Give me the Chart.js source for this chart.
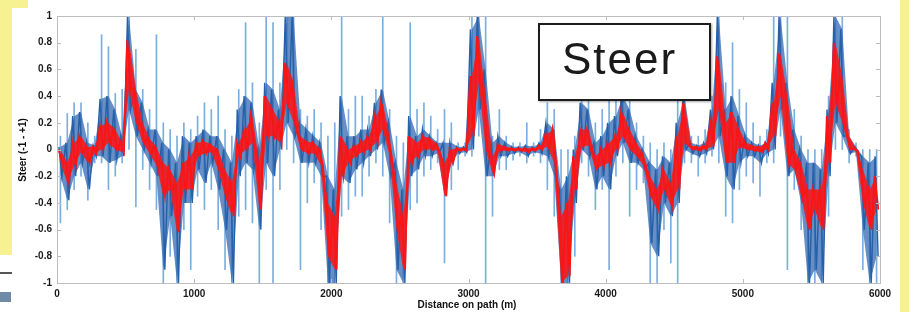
<!DOCTYPE html>
<html>
<head>
<meta charset="utf-8">
<script src="https://cdn.jsdelivr.net/npm/chart.js@4"></script>
<style>
  html, body { margin: 0; padding: 0; background: #fff; }
  #wrap { position: relative; width: 909px; height: 312px; overflow: hidden; font-family: "Liberation Sans", Arial, sans-serif; }
  #wrap canvas { position: absolute; left: 0; top: 0; }
  .edge { position: absolute; background: #f6f292; }
  #yTitle { position: absolute; left: 22px; top: 150px; transform: translate(-50%, -50%) rotate(-90deg); font-size: 10px; font-weight: bold; white-space: nowrap; color: #111; }
  #xTitle { position: absolute; left: 467px; top: 304px; transform: translate(-50%, -50%); font-size: 10px; font-weight: bold; white-space: nowrap; color: #111; }
  #label { position: absolute; left: 538px; top: 23px; width: 147px; height: 62px; padding: 12px 0 0 22px; border: 2.5px solid #1c1c1c; background: #fff;
           box-shadow: 1px 1px 2px rgba(0,0,0,0.35); font-size: 44px; letter-spacing: 2px; line-height: 44px; color: #1a1a1a; }
</style>
</head>
<body>
<div id="wrap">
  <canvas id="steerChart" width="909" height="312"></canvas>
  <div class="edge" style="left:0;top:0;width:12px;height:255px;"></div>
  <div class="edge" style="left:0;top:0;width:28px;height:8px;"></div>
  <div class="edge" style="left:900px;top:0;width:9px;height:312px;"></div>
  <div style="position:absolute;left:0;top:272px;width:12px;height:2px;background:#555;"></div>
  <div style="position:absolute;left:0;top:292px;width:11px;height:10px;background:#6d8aa6;"></div>
  <div id="yTitle">Steer (-1 - +1)</div>
  <div id="xTitle">Distance on path (m)</div>
  <div id="label">Steer</div>
</div>
<script>
// one entry per 50 m of path
const BIN_M = 50;
const xTicks = [0, 1000, 2000, 3000, 4000, 5000, 6000];
const yTicks = [-1, -0.8, -0.6, -0.4, -0.2, 0, 0.2, 0.4, 0.6, 0.8, 1];

// raw steer: outer spikes
const blueHi = [
  0.1, 0.27, 0.35, 0.35, 0.2, 0.1, 0.86, 0.77, 0.42, 0.45,
  1, 0.75, 0.45, 0.3, 0.86, 0.2, 0.15, 0.1, 0.2, 0.15,
  0.25, 0.35, 0.3, 0.4, 0.15, 0.1, 0.45, 0.95, 0.5, 0.2,
  1, 0.95, 0.5, 1, 1, 0.3, 0.25, 0.3, 0.2, 0.1,
  0.2, 1, 0.3, 0.4, 0.4, 0.25, 0.45, 1, 0.3, 0.1,
  0.05, 0.95, 0.3, 0.35, 0.25, 0.15, 0.3, 0.2, 0.05, 0.05,
  1, 1, 1, 0.1, 0.3, 0.1, 0.05, 0.05, 0.2, 0.05,
  0.15, 0.35, 0.3, 0, 0, 0.1, 0.45, 0.4, 0.2, 0.3,
  0.4, 0.4, 0.5, 0.45, 0.2, 0.1, 0.05, 0, 0.05, 0,
  0.4, 0.45, 0.1, 0.1, 0.15, 0.4, 1, 0.5, 0.8, 0.45,
  0.35, 0.2, 0.1, 0.15, 1, 1, 1, 0.3, 0.1, 0,
  0, 0, 0.4, 1, 1, 0.15, 0.05, 0, 0, 0
];
const blueLo = [
  -0.55, -0.45, -0.3, -0.2, -0.38, -0.1, -0.1, -0.3, -0.2, -0.1,
  0, -0.43, -0.15, -0.3, -0.45, -1, -0.8, -1, -0.6, -0.9,
  -0.35, -0.45, -0.3, -0.6, -0.9, -1, -0.5, -0.45, -0.55, -1,
  -0.3, -1, -0.3, 0, -0.1, -0.9, -0.4, -0.25, -0.6, -1,
  -1, -0.5, -0.45, -0.35, -0.35, -0.2, -0.1, -0.2, -0.55, -1,
  -1, -0.45, -0.4, -0.2, -0.15, -0.1, -0.85, -0.3, -0.15, -0.05,
  -0.05, 0.1, -1, -0.5, -0.15, -0.15, -0.08, -0.05, -0.1, -0.05,
  -0.1, -0.3, -0.5, -1, -1, -0.8, -0.1, -0.2, -0.45, -0.3,
  -0.9, -0.2, -0.1, -0.5, -0.3, -0.25, -1, -1, -0.6, -0.85,
  -1, -0.1, -0.1, -0.2, -0.1, -0.05, -0.1, -0.5, -0.55, -0.3,
  -0.2, -0.25, -0.35, -0.1, -0.1, 0.1, -0.9, -0.3, -0.6, -1,
  -1, -1, -0.5, 0, 0, -0.1, -0.05, -0.9, -1, -1
];

// raw steer: dense core
const coreHi = [
  0.02, 0.05, 0.25, 0.28, 0.05, 0.03, 0.38, 0.4, 0.3, 0.1,
  1, 0.45, 0.35, 0.15, 0.15, 0.05, 0, -0.1, 0.1, 0.05,
  0.1, 0.15, 0.1, 0.1, 0, -0.1, 0.3, 0.4, 0.35, 0,
  0.5, 0.45, 0.3, 1, 1, 0.2, 0.15, 0.1, 0.05, -0.2,
  -0.3, 0.4, 0.1, 0.1, 0.15, 0.15, 0.35, 0.45, 0.2, -0.1,
  -0.3, 0.25, 0.1, 0.15, 0.1, 0.05, 0.05, 0.05, 0.02, 0.02,
  0.9, 1, 0.6, 0.05, 0.1, 0.05, 0.02, 0.02, 0.03, 0.02,
  0.05, 0.2, 0.15, -0.3, -0.2, 0, 0.35, 0.3, 0.05, 0.1,
  0.2, 0.25, 0.4, 0.3, 0.1, 0, -0.1, -0.15, -0.05, -0.1,
  0.2, 0.4, 0.05, 0.03, 0.05, 0.3, 1, 0.3, 0.4, 0.25,
  0.1, 0.05, 0.03, 0.05, 0.5, 1, 0.5, 0.15, 0, -0.1,
  -0.1, -0.15, 0.3, 1, 0.9, 0.1, 0.02, -0.05, -0.1, -0.05
];
const coreLo = [
  -0.2, -0.38, -0.2, -0.1, -0.3, -0.05, -0.05, -0.1, -0.08, -0.05,
  0.3, 0.1, 0, -0.1, -0.2, -0.9, -0.5, -1, -0.4, -0.4,
  -0.15, -0.25, -0.1, -0.3, -0.6, -1, -0.2, -0.1, -0.15, -0.6,
  -0.1, -0.2, 0, 0.2, 0.1, -0.1, -0.1, -0.1, -0.2, -1,
  -1, -0.2, -0.25, -0.15, -0.1, -0.05, 0, 0.05, -0.2, -0.9,
  -1, -0.2, -0.15, -0.05, -0.05, -0.03, -0.35, -0.1, -0.03, -0.02,
  0, 0.3, -0.2, -0.2, -0.05, -0.05, -0.03, -0.02, -0.05, -0.02,
  -0.03, -0.05, -0.2, -1, -1, -0.4, 0, -0.05, -0.3, -0.2,
  -0.3, -0.05, 0.05, -0.1, -0.1, -0.15, -0.7, -0.8, -0.4, -0.5,
  -0.4, 0, -0.03, -0.05, -0.03, 0, 0.1, -0.2, -0.3, -0.1,
  -0.05, -0.05, -0.1, -0.03, 0, 0.3, -0.2, -0.15, -0.4, -1,
  -0.9, -1, -0.2, 0.2, 0.1, -0.03, -0.02, -0.6, -1, -0.8
];

// filtered steer (red band)
const redHi = [
  0, -0.1, 0.05, 0.1, 0.02, 0.02, 0.18, 0.2, 0.15, 0.05,
  0.82, 0.45, 0.2, 0.08, 0.02, -0.1, -0.15, -0.25, -0.1, -0.05,
  0.05, 0.06, 0.04, 0, -0.15, -0.25, 0.05, 0.15, 0.25, -0.1,
  0.4, 0.3, 0.2, 0.65, 0.5, 0.1, 0.06, 0.05, 0, -0.4,
  -0.5, 0.1, 0, 0.03, 0.06, 0.1, 0.25, 0.35, 0.1, -0.25,
  -0.5, 0.1, 0.05, 0.1, 0.08, 0.04, -0.1, 0, 0.01, 0.01,
  0.55, 0.85, 0.4, -0.05, 0.04, 0.02, 0.01, 0.01, 0.01, 0.01,
  0.03, 0.12, 0.15, -0.5, -0.4, -0.05, 0.15, 0.15, -0.05, 0,
  0.05, 0.1, 0.28, 0.15, 0.05, -0.03, -0.2, -0.3, -0.15, -0.25,
  0.1, 0.35, 0.03, 0.02, 0.03, 0.2, 0.7, 0.2, 0.28, 0.15,
  0.05, 0.03, 0.02, 0.05, 0.35, 0.72, 0.4, 0, -0.1, -0.3,
  -0.3, -0.3, 0.25, 0.8, 0.55, 0.1, 0.01, -0.15, -0.3, -0.2
];
const redLo = [
  -0.1, -0.25, -0.12, -0.02, -0.1, -0.03, 0, 0.05, 0, -0.02,
  0.45, 0.2, 0.05, -0.03, -0.12, -0.35, -0.3, -0.62, -0.3, -0.3,
  -0.05, -0.03, -0.02, -0.15, -0.35, -0.5, -0.05, 0, 0.05, -0.45,
  0.1, 0.1, 0.05, 0.35, 0.2, 0, -0.03, -0.03, -0.12, -0.8,
  -0.9, -0.2, -0.1, -0.05, -0.02, 0, 0.05, 0.15, -0.05, -0.6,
  -0.9, -0.1, -0.05, 0, 0, -0.01, -0.35, -0.1, -0.01, -0.01,
  0.1, 0.5, 0, -0.18, -0.01, -0.01, -0.01, -0.01, -0.02, -0.01,
  0, 0.02, -0.1, -1, -0.95, -0.3, 0.02, 0.03, -0.15, -0.12,
  -0.1, 0, 0.1, 0, -0.05, -0.12, -0.35, -0.45, -0.3, -0.42,
  -0.3, 0.05, 0, -0.01, 0, 0.02, 0.3, -0.1, -0.1, 0.02,
  0, -0.01, -0.02, 0, 0.1, 0.4, -0.1, -0.15, -0.35, -0.6,
  -0.45, -0.6, -0.1, 0.35, 0.2, 0, -0.01, -0.4, -0.6, -0.45
];

function initSteerChart() {
    const mid = i => i * BIN_M + BIN_M / 2;
    const points = arr => arr.map((v, i) => ({ x: mid(i), y: v }));
    // two samples per bin so a trace swings between its extremes
    const zigzag = (first, second, a, b) =>
        first.flatMap((v, i) => [{ x: i * BIN_M + a, y: v }, { x: i * BIN_M + b, y: second[i] }]);
    const spikes = blueLo.map((lo, i) => ({ x: mid(i), y: [lo, blueHi[i]] }));

    const frame = {
        id: 'frame',
        afterDraw(chart) {
            const { ctx, chartArea: ca, scales } = chart;
            ctx.save();
            ctx.strokeStyle = '#bdbdbd';
            ctx.lineWidth = 1;
            ctx.strokeRect(ca.left + 0.5, ca.top + 0.5, ca.right - ca.left, ca.bottom - ca.top);
            ctx.beginPath();
            xTicks.forEach(v => {
                const px = Math.round(scales.x.getPixelForValue(v)) + 0.5;
                ctx.moveTo(px, ca.bottom); ctx.lineTo(px, ca.bottom - 4);
                ctx.moveTo(px, ca.top); ctx.lineTo(px, ca.top + 4);
            });
            yTicks.forEach(v => {
                const py = Math.round(scales.y.getPixelForValue(v)) + 0.5;
                ctx.moveTo(ca.left, py); ctx.lineTo(ca.left + 4, py);
                ctx.moveTo(ca.right, py); ctx.lineTo(ca.right - 4, py);
            });
            ctx.stroke();
            ctx.restore();
        }
    };

    const tickFont = { family: '"Liberation Sans", Arial, sans-serif', size: 10, weight: 'bold' };
    const RED = '#ff1414', RED_FILL = 'rgba(255,20,20,0.85)';
    const DARK = '#2560a8', SHADE = 'rgba(45,100,175,0.72)', LIGHT = '#7aaee0';

    new Chart(document.getElementById('steerChart'), {
        type: 'line',
        data: {
            datasets: [
                { label: 'Filtered', data: zigzag(redHi, redLo, 12, 38), borderColor: RED, borderWidth: 1.8, order: 0 },
                { label: 'Filtered hi', data: points(redHi), borderColor: 'transparent', backgroundColor: RED_FILL, borderWidth: 0, fill: '+1', order: 1 },
                { label: 'Filtered lo', data: points(redLo), borderColor: 'transparent', borderWidth: 0, fill: false, order: 1 },
                { label: 'Raw', data: zigzag(coreHi, coreLo, 14, 36), borderColor: DARK, borderWidth: 1.4, order: 2 },
                { label: 'Raw hi', data: points(coreHi), borderColor: 'transparent', backgroundColor: SHADE, borderWidth: 0, fill: '+1', order: 3 },
                { label: 'Raw lo', data: points(coreLo), borderColor: 'transparent', borderWidth: 0, fill: false, order: 3 },
                { type: 'bar', label: 'Raw spikes', data: spikes, backgroundColor: LIGHT, barThickness: 1, order: 4 },
            ]
        },
        options: {
            responsive: false,
            animation: false,
            devicePixelRatio: 1,
            elements: { point: { radius: 0 }, line: { tension: 0 } },
            layout: { padding: { top: 16, right: 29, left: 0, bottom: 0 } },
            plugins: { legend: { display: false }, tooltip: { enabled: false } },
            scales: {
                x: {
                    type: 'linear', min: 0, max: 6000, offset: false,
                    afterBuildTicks: s => { s.ticks = xTicks.map(v => ({ value: v })); },
                    afterFit: s => { s.height = 29; },
                    grid: { display: false, drawTicks: false }, border: { display: false },
                    ticks: { color: '#1a1a1a', font: tickFont, padding: 5, maxRotation: 0, callback: v => String(v) }
                },
                y: {
                    min: -1, max: 1,
                    afterBuildTicks: s => { s.ticks = yTicks.map(v => ({ value: v })); },
                    afterFit: s => { s.width = 57; },
                    grid: { display: false, drawTicks: false }, border: { display: false },
                    ticks: { color: '#1a1a1a', font: tickFont, padding: 5, callback: v => String(Number(v.toFixed(1))) }
                }
            }
        },
        plugins: [frame]
    });
}

initSteerChart();
</script>
</body>
</html>
